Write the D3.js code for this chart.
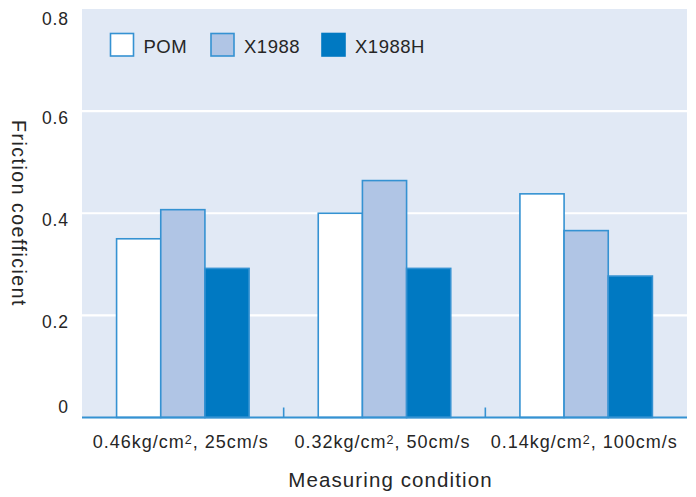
<!DOCTYPE html>
<html>
<head>
<meta charset="utf-8">
<script src="https://cdn.jsdelivr.net/npm/d3@7"></script>
<style>
  html, body { margin: 0; padding: 0; background: #ffffff; }
  svg { display: block; font-family: "Liberation Sans", Arial, Helvetica, sans-serif; }
</style>
</head>
<body>
<svg id="chart" width="696" height="497"></svg>
<script>
// Friction coefficient under three measuring conditions
const conditions = ["0.46kg/cm², 25cm/s", "0.32kg/cm², 50cm/s", "0.14kg/cm², 100cm/s"];
const conditionMain = ["0.46kg/cm", "0.32kg/cm", "0.14kg/cm"];
const conditionTail = [", 25cm/s", ", 50cm/s", ", 100cm/s"];
const seriesNames = ["POM", "X1988", "X1988H"];
const pom = [0.350, 0.400, 0.438];
const x1988 = [0.407, 0.464, 0.366];
const x1988h = [0.292, 0.292, 0.277];
const yTicks = [0, 0.2, 0.4, 0.6, 0.8];
const yTickLabels = ["0", "0.2", "0.4", "0.6", "0.8"];

const fills = ["#ffffff", "#b0c5e5", "#0079c2"];
const edge = "#3592d2";
const plotBg = "#e1e9f5";
const textColor = "#262626";

const svg = d3.select("#chart");
const plotLeft = 82, plotRight = 687, plotTop = 9, plotBottom = 417.5;

const x = d3.scaleBand().domain(conditions).range([plotLeft, plotRight]).padding(0);
const bw = x.bandwidth();
const gw = bw * 0.657;
const xs = d3.scaleBand().domain(seriesNames).range([(bw - gw) / 2, (bw + gw) / 2]).padding(0);
const y = d3.scaleLinear().domain([0, 0.8]).range([plotBottom, plotTop]);

const values = [pom, x1988, x1988h];

// plot background
svg.append("rect")
  .attr("x", plotLeft).attr("y", plotTop)
  .attr("width", plotRight - plotLeft).attr("height", plotBottom - plotTop)
  .attr("fill", plotBg);

// white horizontal gridlines
svg.append("g")
  .selectAll("line")
  .data(yTicks.filter(t => t > 0 && t < 0.8))
  .join("line")
  .attr("x1", plotLeft).attr("x2", plotRight)
  .attr("y1", d => y(d)).attr("y2", d => y(d))
  .attr("stroke", "#ffffff").attr("stroke-width", 2.2);

// bars
const groups = svg.append("g")
  .selectAll("g")
  .data(conditions)
  .join("g")
  .attr("transform", d => `translate(${x(d)},0)`);

groups.selectAll("rect")
  .data((c, i) => seriesNames.map((s, k) => ({ s, k, v: values[k][i] })))
  .join("rect")
  .attr("x", d => xs(d.s))
  .attr("y", d => y(d.v))
  .attr("width", xs.bandwidth())
  .attr("height", d => plotBottom - y(d.v))
  .attr("fill", d => fills[d.k])
  .attr("stroke", edge)
  .attr("stroke-width", 1.6);

// x axis baseline with small ticks between groups
const xAxis = d3.axisBottom(x).tickSize(0).tickFormat(() => "");
const gx = svg.append("g").attr("transform", `translate(0,${plotBottom})`).call(xAxis);
gx.select(".domain").attr("stroke", edge).attr("stroke-width", 1.8).attr("d", `M${plotLeft},0H${plotRight}`);
gx.selectAll(".tick").remove();

svg.append("g")
  .selectAll("line")
  .data(conditions.slice(1))
  .join("line")
  .attr("x1", d => x(d)).attr("x2", d => x(d))
  .attr("y1", plotBottom).attr("y2", plotBottom - 10)
  .attr("stroke", edge).attr("stroke-width", 1.6);

// category labels with superscript 2
const catLabels = svg.append("g")
  .selectAll("text")
  .data(conditions)
  .join("text")
  .attr("x", d => x(d) + bw / 2 - 2)
  .attr("y", 448)
  .attr("text-anchor", "middle")
  .attr("fill", textColor)
  .attr("font-size", 18)
  .attr("letter-spacing", 1.0);
catLabels.append("tspan").text((d, i) => conditionMain[i]);
catLabels.append("tspan").text("2").attr("font-size", 12.5).attr("dy", -4.5);
catLabels.append("tspan").text((d, i) => conditionTail[i]).attr("dy", 4.5);

// y axis labels
const yAxis = d3.axisLeft(y).tickValues(yTicks).tickSize(0)
  .tickFormat((d, i) => yTickLabels[i]);
const gy = svg.append("g").attr("transform", `translate(69,0)`).call(yAxis);
gy.select(".domain").remove();
gy.selectAll("text")
  .attr("x", 0)
  .attr("fill", textColor)
  .attr("font-size", 17.5)
  .attr("letter-spacing", 0.9)
  .attr("font-family", "\"Liberation Sans\", Arial, sans-serif")
  .attr("dy", d => d === 0 ? "-0.28em" : (d === 0.8 ? "0.88em" : "0.68em"));

// axis titles
svg.append("text")
  .attr("x", (plotLeft + plotRight) / 2 + 6)
  .attr("y", 487)
  .attr("text-anchor", "middle")
  .attr("fill", textColor)
  .attr("font-size", 20.5)
  .attr("letter-spacing", 1.1)
  .text("Measuring condition");

svg.append("text")
  .attr("transform", `translate(12,${(120 + 307) / 2}) rotate(90)`)
  .attr("text-anchor", "middle")
  .attr("fill", textColor)
  .attr("font-size", 19.5)
  .attr("letter-spacing", 1.5)
  .text("Friction coefficient");

// legend
const legendX = [110.5, 211, 322];
const legend = svg.append("g")
  .selectAll("g")
  .data(seriesNames)
  .join("g")
  .attr("transform", (d, i) => `translate(${legendX[i]},33.5)`);
legend.append("rect")
  .attr("width", 23).attr("height", 22.5)
  .attr("fill", (d, i) => fills[i])
  .attr("stroke", (d, i) => i === 2 ? fills[2] : edge)
  .attr("stroke-width", 1.6);
legend.append("text")
  .attr("x", 33).attr("y", 19.5)
  .attr("fill", textColor)
  .attr("font-size", 18.5)
  .attr("letter-spacing", 0.5)
  .text(d => d);
</script>
</body>
</html>
